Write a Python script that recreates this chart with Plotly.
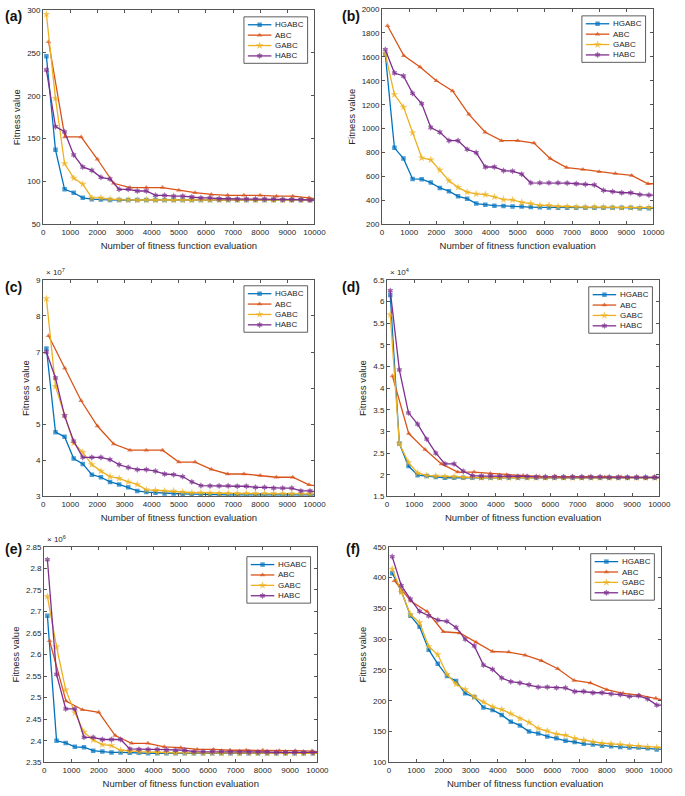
import plotly.graph_objects as go

# ---------------- data ----------------
# x positions of the marked evaluation points (last point = 10000, no marker)
X30 = [120, 455, 790, 1125, 1460, 1795, 2130, 2465, 2800, 3135, 3470, 3805, 4140, 4475, 4810,
       5145, 5480, 5815, 6150, 6485, 6820, 7155, 7490, 7825, 8160, 8495, 8830, 9165, 9500, 9835, 10000]
X17 = [200, 800, 1400, 2000, 2600, 3200, 3800, 4400, 5000, 5600, 6200, 6800, 7400, 8000, 8600,
       9200, 9800, 10000]

SERIES = ["HGABC", "ABC", "GABC", "HABC"]
X_TICKS = [0, 1000, 2000, 3000, 4000, 5000, 6000, 7000, 8000, 9000, 10000]

# (a)
A_HGABC = [246, 137, 91, 87, 81, 79.5, 79, 78.5, 78.5, 78.5, 78.5, 78.5, 78.5, 78.5, 78.5,
           78.5, 78.5, 78.5, 78.5, 78.5, 78.5, 78.5, 78.5, 78.5, 78.5, 78.5, 78.5, 78.5, 78.5, 78.5, 78.5]
A_ABC = [263, 152, 152, 126, 98, 93, 93, 93, 90, 87, 85, 84, 84, 84, 83, 83, 81, 80]
A_GABC = [295, 197, 121, 104, 97, 81, 81, 79.5, 79, 78.5, 78.5, 78.5, 78.5, 78.5, 78.5,
          78.5, 78.5, 78.5, 78.5, 78.5, 78.5, 78.5, 78.5, 78.5, 78.5, 78.5, 78.5, 78.5, 78.5, 78.5, 78.5]
A_HABC = [230, 164, 158, 131, 117, 113, 105, 103, 91, 91, 89, 89, 84, 84, 83, 83, 82, 81, 81, 80,
          80, 79.5, 79.5, 79.5, 79.5, 79.5, 79, 79, 79, 78.5, 78.5]
A_YTICKS = [50, 100, 150, 200, 250, 300]

# (b)
B_HGABC = [1620, 840, 750, 580, 578, 550, 505, 478, 435, 415, 375, 365, 357, 355, 350, 350, 345,
           343, 342, 340, 340, 340, 340, 340, 340, 340, 340, 340, 335, 335, 335]
B_ABC = [1860, 1610, 1515, 1400, 1315, 1120, 970, 900, 900, 880, 750, 675, 660, 640, 625, 610, 540, 540]
B_GABC = [1625, 1285, 1180, 965, 757, 740, 655, 565, 510, 470, 455, 450, 430, 408, 405, 385, 375,
          360, 360, 350, 350, 345, 345, 345, 345, 340, 340, 340, 340, 340, 340]
B_HABC = [1660, 1465, 1440, 1295, 1210, 1010, 970, 900, 900, 828, 800, 680, 680, 650, 645, 620, 548,
          548, 548, 548, 545, 540, 535, 530, 485, 475, 465, 465, 450, 445, 445]
B_YTICKS = [200, 400, 600, 800, 1000, 1200, 1400, 1600, 1800, 2000]

# (c)  values in units of 1e7
C_HGABC = [7.1, 4.78, 4.65, 4.05, 3.9, 3.6, 3.53, 3.4, 3.33, 3.25, 3.15, 3.12, 3.1, 3.08, 3.08,
           3.07, 3.06, 3.05, 3.05, 3.05, 3.04, 3.04, 3.04, 3.04, 3.04, 3.04, 3.04, 3.04, 3.04, 3.04, 3.04]
C_ABC = [7.45, 6.55, 5.65, 4.95, 4.45, 4.28, 4.28, 4.28, 3.95, 3.95, 3.75, 3.62, 3.62, 3.58, 3.53,
         3.53, 3.32, 3.3]
C_GABC = [8.48, 6.05, 5.25, 4.48, 4.22, 3.88, 3.7, 3.55, 3.5, 3.4, 3.33, 3.18, 3.17, 3.15, 3.15,
          3.12, 3.1, 3.1, 3.09, 3.08, 3.08, 3.08, 3.08, 3.08, 3.08, 3.08, 3.07, 3.07, 3.07, 3.07, 3.07]
C_HABC = [7.0, 6.28, 5.23, 4.53, 4.08, 4.08, 4.08, 4.02, 3.88, 3.8, 3.74, 3.74, 3.7, 3.62, 3.6,
          3.55, 3.4, 3.3, 3.29, 3.29, 3.29, 3.28, 3.28, 3.25, 3.25, 3.23, 3.23, 3.23, 3.15, 3.15, 3.13]
C_YTICKS = [3, 4, 5, 6, 7, 8, 9]

# (d)  values in units of 1e4
D_HGABC = [6.15, 2.72, 2.2, 1.99, 1.97, 1.95, 1.93, 1.93, 1.93, 1.93, 1.93, 1.93, 1.93, 1.93, 1.93,
           1.93, 1.93, 1.93, 1.93, 1.93, 1.93, 1.93, 1.93, 1.93, 1.93, 1.93, 1.93, 1.93, 1.93, 1.93, 1.93]
D_ABC = [4.28, 2.95, 2.58, 2.25, 2.06, 2.06, 2.03, 2.0, 1.98, 1.96, 1.96, 1.96, 1.95, 1.95, 1.95,
         1.94, 1.94, 1.94]
D_GABC = [5.7, 2.72, 2.28, 2.04, 1.98, 1.97, 1.96, 1.95, 1.94, 1.94, 1.93, 1.93, 1.93, 1.93, 1.93,
          1.93, 1.93, 1.93, 1.93, 1.93, 1.93, 1.93, 1.93, 1.93, 1.93, 1.93, 1.93, 1.93, 1.93, 1.93, 1.93]
D_HABC = [6.25, 4.42, 3.43, 3.17, 2.82, 2.5, 2.25, 2.25, 2.08, 1.98, 1.97, 1.97, 1.97, 1.96, 1.96,
          1.96, 1.95, 1.95, 1.95, 1.95, 1.95, 1.95, 1.95, 1.95, 1.94, 1.94, 1.94, 1.94, 1.94, 1.94, 1.94]
D_YTICKS = [1.5, 2, 2.5, 3, 3.5, 4, 4.5, 5, 5.5, 6, 6.5]

# (e)  values in units of 1e6
E_HGABC = [2.69, 2.40, 2.395, 2.386, 2.385, 2.377, 2.375, 2.373, 2.373, 2.372, 2.372, 2.371, 2.371,
           2.371, 2.371, 2.371, 2.371, 2.371, 2.371, 2.371, 2.371, 2.371, 2.371, 2.371, 2.371, 2.371,
           2.371, 2.371, 2.371, 2.371, 2.371]
E_ABC = [2.632, 2.492, 2.472, 2.466, 2.412, 2.394, 2.394, 2.386, 2.384, 2.38, 2.38, 2.378, 2.378,
         2.378, 2.377, 2.377, 2.376, 2.375]
E_GABC = [2.735, 2.618, 2.518, 2.465, 2.42, 2.402, 2.391, 2.389, 2.378, 2.376, 2.375, 2.374, 2.373,
          2.373, 2.372, 2.372, 2.372, 2.371, 2.371, 2.371, 2.371, 2.371, 2.371, 2.371, 2.371, 2.371,
          2.371, 2.371, 2.371, 2.371, 2.371]
E_HABC = [2.82, 2.554, 2.474, 2.474, 2.408, 2.408, 2.403, 2.403, 2.403, 2.381, 2.38, 2.38, 2.38,
          2.379, 2.378, 2.378, 2.375, 2.375, 2.375, 2.375, 2.374, 2.374, 2.374, 2.374, 2.374, 2.373,
          2.373, 2.373, 2.373, 2.373, 2.373]
E_YTICKS = [2.35, 2.4, 2.45, 2.5, 2.55, 2.6, 2.65, 2.7, 2.75, 2.8, 2.85]

# (f)
F_HGABC = [407, 378, 338, 320, 283, 260, 240, 232, 212, 206, 189, 185, 177, 166, 160, 150, 147,
           142, 139, 135, 133, 130, 129, 127, 126, 125, 124, 124, 123, 121, 121]
F_ABC = [395, 362, 345, 312, 310, 295, 280, 279, 274, 265, 252, 233, 229, 218, 212, 209, 204, 202]
F_GABC = [414, 376, 340, 327, 288, 275, 243, 227, 218, 206, 198, 190, 186, 179, 171, 165, 155, 151,
          146, 144, 139, 136, 133, 131, 130, 129, 127, 126, 125, 124, 124]
F_HABC = [434, 387, 365, 345, 338, 331, 329, 319, 300, 289, 258, 251, 237, 231, 229, 226, 222, 222,
          221, 221, 215, 215, 213, 213, 211, 210, 207, 208, 203, 193, 193]
F_YTICKS = [100, 150, 200, 250, 300, 350, 400, 450]

# ---------------- styling ----------------
W, H = 685, 796
COLORS = {"HGABC": "#0072BD", "ABC": "#D95319", "GABC": "#EDB120", "HABC": "#7E2F8E"}
SYMBOLS = {"HGABC": "square", "ABC": "triangle-up", "GABC": "star", "HABC": "hexagram"}
MSIZE = {"HGABC": 4.5, "ABC": 5, "GABC": 6, "HABC": 5}
FONT = "Liberation Sans, Arial, Helvetica, sans-serif"
AXC = "#555555"
TXT = "#262626"

# panel boxes in pixels: left, right, top, bottom ; legend box left/top in pixels
PANELS = [
    dict(lab="(a)", box=(42, 319, 6, 223), data=[A_HGABC, A_ABC, A_GABC, A_HABC], yt=A_YTICKS,
         yr=(50, 300), exp=None, lab_xy=(1, 2), leg=(247, 13)),
    dict(lab="(b)", box=(388, 665, 5, 223), data=[B_HGABC, B_ABC, B_GABC, B_HABC], yt=B_YTICKS,
         yr=(200, 2000), exp=None, lab_xy=(345, 2), leg=(592, 12)),
    dict(lab="(c)", box=(42, 319, 279, 498), data=[C_HGABC, C_ABC, C_GABC, C_HABC], yt=C_YTICKS,
         yr=(3, 9), exp="7", lab_xy=(1, 276), leg=(247, 285)),
    dict(lab="(d)", box=(393, 671, 279, 498), data=[D_HGABC, D_ABC, D_GABC, D_HABC], yt=D_YTICKS,
         yr=(1.5, 6.5), exp="4", lab_xy=(345, 276), leg=(599, 286)),
    dict(lab="(e)", box=(43, 322, 549, 767), data=[E_HGABC, E_ABC, E_GABC, E_HABC], yt=E_YTICKS,
         yr=(2.35, 2.85), exp="6", lab_xy=(1, 541), leg=(250, 559)),
    dict(lab="(f)", box=(395, 673, 549, 767), data=[F_HGABC, F_ABC, F_GABC, F_HABC], yt=F_YTICKS,
         yr=(100, 450), exp=None, lab_xy=(349, 541), leg=(601, 556)),
]
LEG_W, LEG_H = 65, 47
LEG_ROWS = [8, 18.5, 29, 39.5]

fig = go.Figure()
layout = dict(width=W, height=H, margin=dict(l=0, r=0, t=0, b=0),
              paper_bgcolor="white", plot_bgcolor="rgba(0,0,0,0)",
              font=dict(family=FONT, size=8, color=TXT), showlegend=False)
annotations = []
shapes = []

# overlay axis in pixel units, used only for the legend samples
layout["xaxis7"] = dict(domain=[0, 1], range=[0, W], visible=False, fixedrange=True, anchor="y7")
layout["yaxis7"] = dict(domain=[0, 1], range=[H, 0], visible=False, fixedrange=True, anchor="x7")

for i, p in enumerate(PANELS):
    n = "" if i == 0 else str(i + 1)
    xa, ya = "x" + n, "y" + n
    l, r, t, b = p["box"]
    for s, ys in zip(SERIES, p["data"]):
        xs = X17 if s == "ABC" else X30
        sizes = [MSIZE[s]] * (len(xs) - 1) + [0]
        fig.add_trace(go.Scatter(
            x=xs, y=ys, name=s, mode="lines+markers", xaxis=xa, yaxis=ya,
            line=dict(color=COLORS[s], width=1.3),
            marker=dict(symbol=SYMBOLS[s], size=sizes, color=COLORS[s], line=dict(width=0)),
        ))
    axis_common = dict(showgrid=False, zeroline=False, showline=True, linecolor=AXC, linewidth=1,
                       mirror="ticks", ticks="inside", ticklen=3, tickcolor=AXC, tickangle=0,
                       tickfont=dict(size=8, color=TXT))
    layout["xaxis" + n] = dict(domain=[l / W, r / W], anchor=ya, range=[0, 10000],
                               tickvals=X_TICKS, ticktext=[str(v) for v in X_TICKS],
                               title=dict(text="Number of fitness function evaluation",
                                          font=dict(size=9.5, color=TXT), standoff=6),
                               **axis_common)
    layout["yaxis" + n] = dict(domain=[1 - b / H, 1 - t / H], anchor=xa, range=list(p["yr"]),
                               tickvals=p["yt"], ticktext=[("%g" % v) for v in p["yt"]],
                               title=dict(text="Fitness value", font=dict(size=9.5, color=TXT),
                                          standoff=4),
                               **axis_common)
    # custom compact legend (MATLAB style)
    lx, ly = p["leg"]
    shapes.append(dict(type="rect", xref="paper", yref="paper", layer="below",
                       x0=lx / W, x1=(lx + LEG_W) / W, y0=1 - ly / H, y1=1 - (ly + LEG_H) / H,
                       line=dict(color="#333333", width=0.8), fillcolor="white"))
    for s, dy in zip(SERIES, LEG_ROWS):
        yy = ly + dy
        fig.add_trace(go.Scatter(
            x=[lx + 4, lx + 16, lx + 28], y=[yy, yy, yy], xaxis="x7", yaxis="y7",
            mode="lines+markers", hoverinfo="skip",
            line=dict(color=COLORS[s], width=1.3),
            marker=dict(symbol=SYMBOLS[s], size=[0, MSIZE[s], 0], color=COLORS[s],
                        line=dict(width=0)),
        ))
        annotations.append(dict(text=s, x=(lx + 32) / W, y=1 - yy / H, xref="paper", yref="paper",
                                xanchor="left", yanchor="middle", showarrow=False,
                                borderpad=0, borderwidth=0,
                                font=dict(size=8, color=TXT)))
    annotations.append(dict(text="<b>" + p["lab"] + "</b>", x=p["lab_xy"][0] / W,
                            y=1 - p["lab_xy"][1] / H, xref="paper", yref="paper",
                            xanchor="left", yanchor="top", showarrow=False,
                            font=dict(size=14, color="#111111")))
    if p["exp"]:
        annotations.append(dict(text="× 10<sup>" + p["exp"] + "</sup>", x=(l + 1) / W,
                                y=1 - (t - 1) / H, xref="paper", yref="paper",
                                xanchor="left", yanchor="bottom", showarrow=False,
                                font=dict(size=8, color=TXT)))

layout["annotations"] = annotations
layout["shapes"] = shapes
fig.update_layout(**layout)
fig.write_html("out.html", config={"displayModeBar": False},
               post_script="document.body.style.margin='0px';document.body.style.overflow='hidden';")
